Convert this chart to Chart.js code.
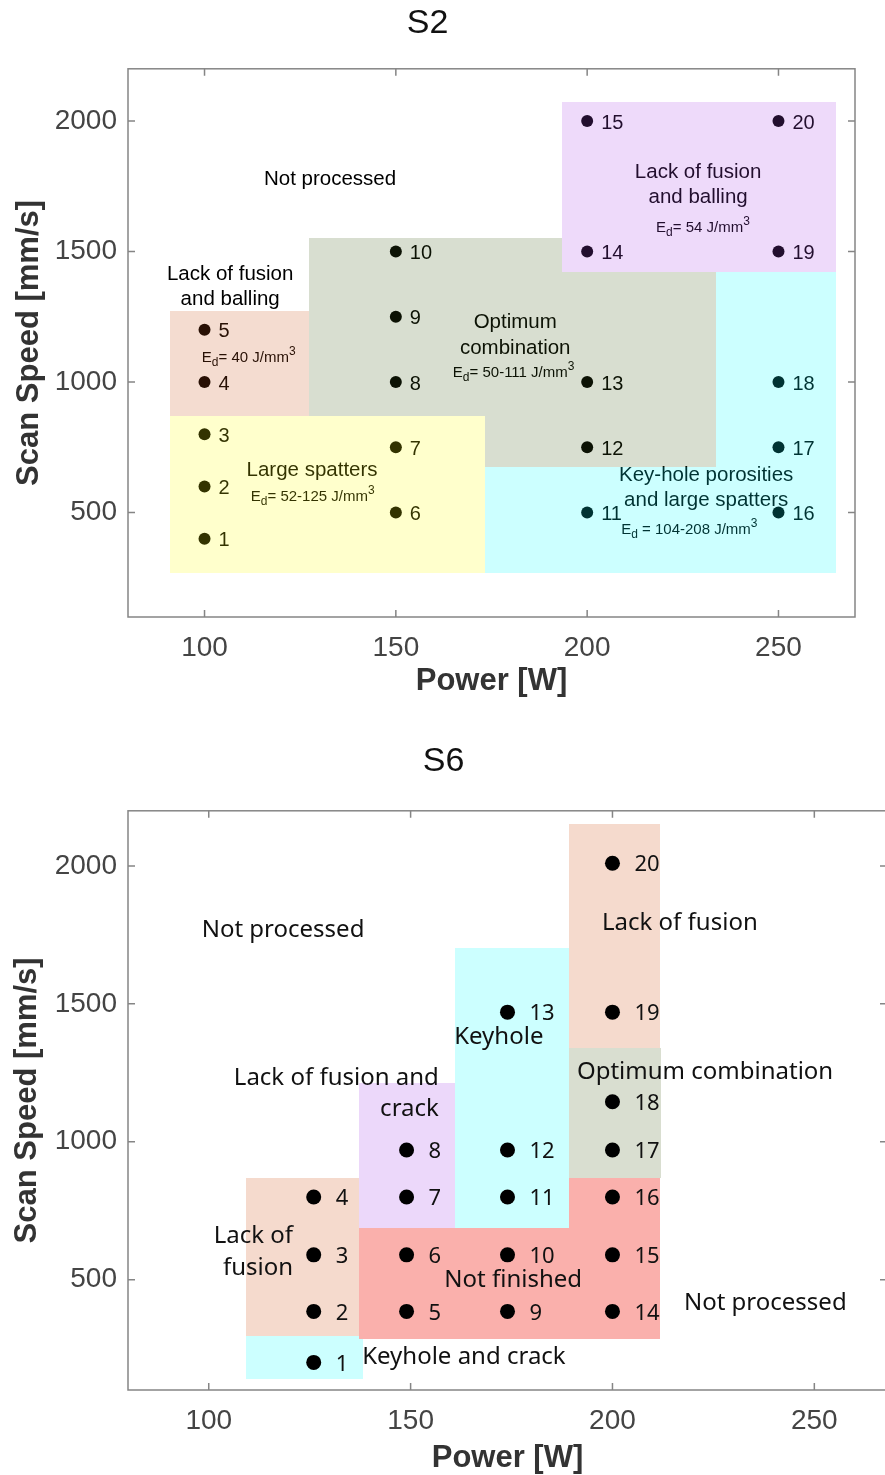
<!DOCTYPE html>
<html>
<head>
<meta charset="utf-8">
<title>S2 / S6 process maps</title>
<script src="https://cdn.jsdelivr.net/npm/chart.js@4.4.0/dist/chart.umd.min.js"></script>
<style>
    html, body { margin: 0; padding: 0; background: #fff; overflow: hidden; width: 885px; height: 1475px; }
    #s2Chart { position: absolute; left: 0; top: 0; }
    #s6Chart { position: absolute; left: 0; top: 720px; }
</style>
</head>
<body>
<canvas id="s2Chart" width="885" height="710"></canvas>
<canvas id="s6Chart" width="900" height="758"></canvas>
<script>
// ================= Shared axis data =================
const powerTicks = [100, 150, 200, 250];
const speedTicks = [500, 1000, 1500, 2000];

// ================= S2 data =================
const s2Labels = ["1","2","3","4","5","6","7","8","9","10","11","12","13","14","15","16","17","18","19","20"];
const s2Power  = [100,100,100,100,100,150,150,150,150,150,200,200,200,200,200,250,250,250,250,250];
const s2Speed  = [400,600,800,1000,1200,500,750,1000,1250,1500,500,750,1000,1500,2000,500,750,1000,1500,2000];

// zone boxes: [power from, power to, speed from, speed to]
const s2LackLow   = [[91, 127.3, 870, 1272]];
const s2Spatters  = [[91, 173.2, 267, 870]];
const s2Optimum   = [[127.3, 193.5, 870, 1553], [193.5, 233.7, 870, 1420], [173.2, 233.7, 675, 870]];
const s2LackHigh  = [[193.5, 265, 1420, 2073]];
const s2Keyhole   = [[173.2, 265, 267, 675], [233.7, 265, 675, 1420]];

// ================= S6 data =================
const s6Labels = ["1","2","3","4","5","6","7","8","9","10","11","12","13","14","15","16","17","18","19","20"];
const s6Power  = [126,126,126,126,149,149,149,149,174,174,174,174,174,200,200,200,200,200,200,200];
const s6Speed  = [200,385,590,800,385,590,800,970,385,590,800,970,1470,385,590,800,970,1145,1470,2010];

const s6KeyCrack  = [[109.2, 138.2, 140, 297]];
const s6LackLeft  = [[109.2, 137.2, 297, 870]];
const s6LackCrack = [[137.2, 161, 689, 1214]];
const s6NotDone   = [[137.2, 189.3, 286, 689], [189.3, 211.7, 286, 870]];
const s6Keyhole   = [[161, 189.3, 689, 1703]];
const s6LackTop   = [[189.3, 211.7, 1340, 2152]];
const s6Optimum   = [[189.3, 212, 870, 1340]];

// ================= Drawing helpers =================
function drawZones(chart, opts) {
    const ctx = chart.ctx, xs = chart.scales.x, ys = chart.scales.y;
    ctx.save();
    ctx.globalAlpha = opts.overlay ? 0.2 : 1;
    opts.zones.forEach(z => {
        ctx.fillStyle = z.color;
        z.boxes.forEach(b => {
            // snap to whole pixels so neighbouring boxes meet without seams
            const l = Math.round(xs.getPixelForValue(b[0])), r = Math.round(xs.getPixelForValue(b[1]));
            const t = Math.round(ys.getPixelForValue(b[3])), btm = Math.round(ys.getPixelForValue(b[2]));
            ctx.fillRect(l, t, r - l, btm - t);
        });
    });
    ctx.restore();
}

function drawEd(ctx, x0, y0, rest, size, family) {
    let x = x0;
    const big = size + "px '" + family + "'", small = Math.round(size * 0.78) + "px '" + family + "'";
    ctx.textAlign = "left";
    ctx.textBaseline = "middle";
    ctx.font = big;   ctx.fillText("E", x, y0);  x += ctx.measureText("E").width;
    ctx.font = small; ctx.fillText("d", x, y0 + size * 0.32); x += ctx.measureText("d").width;
    ctx.font = big;   ctx.fillText(rest, x, y0); x += ctx.measureText(rest).width;
    ctx.font = small; ctx.fillText("3", x, y0 - size * 0.42);
}

function drawNotes(chart, opts) {
    const ctx = chart.ctx, xs = chart.scales.x, ys = chart.scales.y;
    ctx.save();
    ctx.fillStyle = opts.textColor;
    opts.notes.forEach(n => {
        const px = xs.getPixelForValue(n.x), py = ys.getPixelForValue(n.y);
        if (n.ed) {
            drawEd(ctx, px, py, n.ed, opts.edSize, opts.family);
        } else {
            ctx.font = opts.noteSize + "px '" + opts.family + "'";
            ctx.textAlign = n.align || "center";
            ctx.textBaseline = "middle";
            ctx.fillText(n.text, px, py);
        }
    });
    ctx.restore();
}

function drawPointLabels(chart, opts) {
    const ctx = chart.ctx, meta = chart.getDatasetMeta(0);
    ctx.save();
    ctx.fillStyle = opts.textColor;
    ctx.font = opts.labelSize + "px '" + opts.family + "'";
    ctx.textAlign = "left";
    ctx.textBaseline = "middle";
    meta.data.forEach((pt, i) => {
        ctx.fillText(opts.labels[i], pt.x + opts.labelDx, pt.y + 2);
    });
    ctx.restore();
}

function drawFrame(chart) {
    const ctx = chart.ctx, a = chart.chartArea, xs = chart.scales.x, ys = chart.scales.y;
    ctx.save();
    ctx.strokeStyle = "#858585";
    ctx.lineWidth = 1.5;
    ctx.strokeRect(a.left, a.top, a.right - a.left, a.bottom - a.top);
    ctx.beginPath();
    powerTicks.forEach(v => {
        const px = xs.getPixelForValue(v);
        ctx.moveTo(px, a.bottom); ctx.lineTo(px, a.bottom - 7);
        ctx.moveTo(px, a.top);    ctx.lineTo(px, a.top + 7);
    });
    speedTicks.forEach(v => {
        const py = ys.getPixelForValue(v);
        ctx.moveTo(a.left, py);  ctx.lineTo(a.left + 7, py);
        ctx.moveTo(a.right, py); ctx.lineTo(a.right - 7, py);
    });
    ctx.stroke();
    ctx.restore();
}

const processMap = {
    id: "processMap",
    beforeDatasetsDraw(chart, args, opts) {
        if (!opts.overlay) drawZones(chart, opts);
    },
    afterDatasetsDraw(chart, args, opts) {
        drawPointLabels(chart, opts);
        drawNotes(chart, opts);
        if (opts.overlay) drawZones(chart, opts);
        drawFrame(chart);
    }
};

// ================= Chart factory =================
function makeChart(canvasId, cfg) {
    const tickFont = { family: "'Liberation Sans', Arial, sans-serif", size: 28 };
    const titleFont = { family: "'Liberation Sans', Arial, sans-serif", size: 31, weight: "bold" };
    return new Chart(document.getElementById(canvasId), {
        type: "scatter",
        data: {
            datasets: [{
                data: cfg.power.map((p, i) => ({ x: p, y: cfg.speed[i] })),
                pointRadius: cfg.dotRadius,
                pointHoverRadius: cfg.dotRadius,
                backgroundColor: "#000",
                borderWidth: 0
            }]
        },
        options: {
            responsive: false,
            animation: false,
            events: [],
            layout: { padding: { left: 0, right: cfg.padRight, top: 0, bottom: 0 } },
            plugins: {
                legend: { display: false },
                tooltip: { enabled: false },
                title: {
                    display: true,
                    text: cfg.title,
                    color: "#111",
                    font: { family: "'Liberation Sans', Arial, sans-serif", size: 34, weight: "normal" },
                    padding: cfg.titlePad
                },
                processMap: cfg.map
            },
            scales: {
                x: {
                    type: "linear",
                    min: 80,
                    max: cfg.xMax,
                    afterBuildTicks: s => { s.ticks = powerTicks.map(v => ({ value: v })); },
                    afterFit: s => { s.height = cfg.xAxisHeight; },
                    grid: { display: false, drawTicks: false },
                    border: { display: false },
                    ticks: { padding: cfg.xTickPad, color: "#444", font: tickFont, callback: v => String(v) },
                    title: { display: true, text: "Power [W]", color: "#333", font: titleFont,
                             padding: { top: 0, bottom: cfg.xTitlePad } }
                },
                y: {
                    type: "linear",
                    min: 100,
                    max: 2200,
                    afterBuildTicks: s => { s.ticks = speedTicks.map(v => ({ value: v })); },
                    afterFit: s => { s.width = 128; },
                    grid: { display: false, drawTicks: false },
                    border: { display: false },
                    ticks: { padding: 11, color: "#444", font: tickFont, callback: v => String(v) },
                    title: { display: true, text: "Scan Speed [mm/s]", color: "#333", font: titleFont,
                             padding: { top: cfg.yTitlePad, bottom: 0 } }
                }
            }
        },
        plugins: [processMap]
    });
}

// ================= S2 chart =================
makeChart("s2Chart", {
    title: "S2",
    power: s2Power,
    speed: s2Speed,
    dotRadius: 6,
    xMax: 270,
    padRight: 30,
    titlePad: { top: 3, bottom: 25 },
    xAxisHeight: 93,
    xTickPad: 14,
    xTitlePad: 10,
    yTitlePad: 11,
    map: {
        overlay: true,
        family: "Liberation Sans",
        textColor: "#000",
        labels: s2Labels,
        labelSize: 20,
        labelDx: 14,
        noteSize: 20.5,
        edSize: 15,
        zones: [
            { color: "rgb(200,80,20)",  boxes: s2LackLow },
            { color: "rgb(255,255,0)",  boxes: s2Spatters },
            { color: "rgb(60,90,20)",   boxes: s2Optimum },
            { color: "rgb(170,70,230)", boxes: s2LackHigh },
            { color: "rgb(0,255,255)",  boxes: s2Keyhole }
        ],
        notes: [
            { text: "Not processed", x: 132.8, y: 1775 },
            { text: "Lack of fusion", x: 106.7, y: 1414 },
            { text: "and balling", x: 106.7, y: 1315 },
            { ed: "= 40 J/mm", x: 99.3, y: 1093 },
            { text: "Optimum", x: 181.2, y: 1230 },
            { text: "combination", x: 181.2, y: 1131 },
            { ed: "= 50-111 J/mm", x: 164.9, y: 1035 },
            { text: "Large spatters", x: 128.1, y: 663 },
            { ed: "= 52-125 J/mm", x: 112.1, y: 560 },
            { text: "Lack of fusion", x: 229, y: 1805 },
            { text: "and balling", x: 229, y: 1706 },
            { ed: "= 54 J/mm", x: 218, y: 1591 },
            { text: "Key-hole porosities", x: 231.1, y: 644 },
            { text: "and large spatters", x: 231.1, y: 548 },
            { ed: " = 104-208 J/mm", x: 208.9, y: 433 }
        ]
    }
});

// ================= S6 chart =================
makeChart("s6Chart", {
    title: "S6",
    power: s6Power,
    speed: s6Speed,
    dotRadius: 7.5,
    xMax: 268,
    padRight: 13,
    titlePad: { top: 21, bottom: 29 },
    xAxisHeight: 88,
    xTickPad: 14,
    xTitlePad: 1,
    yTitlePad: 9,
    map: {
        overlay: false,
        family: "Noto Sans",
        textColor: "#111",
        labels: s6Labels,
        labelSize: 22,
        labelDx: 22,
        noteSize: 24,
        edSize: 15,
        zones: [
            { color: "rgb(204,255,255)", boxes: s6KeyCrack },
            { color: "rgb(245,218,205)", boxes: s6LackLeft },
            { color: "rgb(236,216,250)", boxes: s6LackCrack },
            { color: "rgb(250,176,172)", boxes: s6NotDone },
            { color: "rgb(204,255,255)", boxes: s6Keyhole },
            { color: "rgb(245,218,205)", boxes: s6LackTop },
            { color: "rgb(217,222,208)", boxes: s6Optimum }
        ],
        notes: [
            { text: "Not processed", x: 118.4, y: 1768 },
            { text: "Lack of fusion and", x: 157, y: 1232, align: "right" },
            { text: "crack", x: 157, y: 1119, align: "right" },
            { text: "Keyhole", x: 160.8, y: 1380, align: "left" },
            { text: "Lack of fusion", x: 197.4, y: 1794, align: "left" },
            { text: "Optimum combination", x: 191.2, y: 1253, align: "left" },
            { text: "Lack of", x: 120.9, y: 658, align: "right" },
            { text: "fusion", x: 120.9, y: 542, align: "right" },
            { text: "Not finished", x: 175.4, y: 499 },
            { text: "Not processed", x: 217.7, y: 416, align: "left" },
            { text: "Keyhole and crack", x: 138, y: 220, align: "left" }
        ]
    }
});
</script>
</body>
</html>
